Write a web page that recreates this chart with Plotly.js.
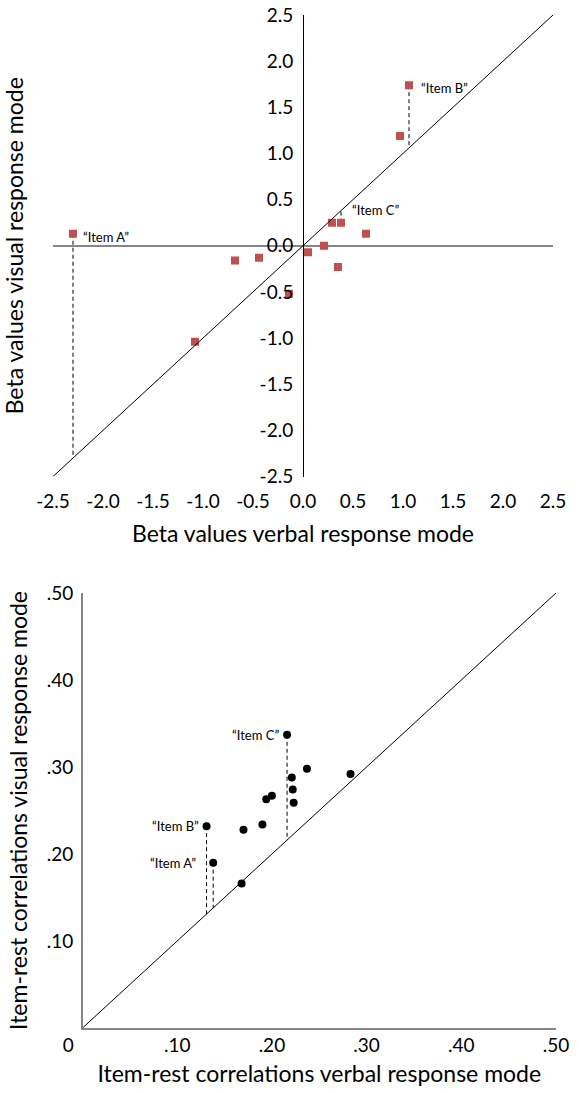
<!DOCTYPE html>
<html><head><meta charset="utf-8">
<script src="https://cdn.plot.ly/plotly-3.0.1.min.js"></script>
<style>html,body{margin:0;padding:0;background:#fff}</style>
</head><body><div id="chart" style="width:579px;height:1093px"></div>
<script>
// ---- data: beta values (top panel) ----
const betaVerbal = [-2.30, -1.08, -0.68, -0.44, -0.14, 0.05, 0.21, 0.29, 0.38, 0.35, 0.63, 0.97, 1.06];
const betaVisual = [ 0.13, -1.04, -0.16, -0.13, -0.52, -0.07, 0.00, 0.25, 0.25, -0.23, 0.13, 1.19, 1.74];
const betaLabelIdx = [0, 8, 12];
const betaLabelText = ['“Item A”', '“Item C”', '“Item B”'];
const betaTicks = [-2.5, -2.0, -1.5, -1.0, -0.5, 0.0, 0.5, 1.0, 1.5, 2.0, 2.5];
const betaTickText = ['-2.5', '-2.0', '-1.5', '-1.0', '-0.5', '0.0', '0.5', '1.0', '1.5', '2.0', '2.5'];

// ---- data: item-rest correlations (bottom panel) ----
const corrVerbal = [0.131, 0.138, 0.168, 0.170, 0.190, 0.194, 0.200, 0.216, 0.221, 0.222, 0.223, 0.237, 0.283];
const corrVisual = [0.232, 0.190, 0.166, 0.228, 0.234, 0.263, 0.267, 0.337, 0.288, 0.274, 0.259, 0.298, 0.292];
const corrLabelIdx = [0, 1, 7];
const corrLabelText = ['“Item B”', '“Item A”', '“Item C”'];
const corrXTicks = [0, 0.1, 0.2, 0.3, 0.4, 0.5];
const corrXTickText = ['0\u2002\u2002\u2002', '.10', '.20', '.30', '.40', '.50'];
const corrYTicks = [0.1, 0.2, 0.3, 0.4, 0.5];
const corrYTickText = ['.10', '.20', '.30', '.40', '.50'];

const W = 579, H = 1093;
const FONT = 'Lato, "Open Sans", sans-serif';
const px = p => p / W;
const py = p => 1 - p / H;
const hidden = 'rgba(0,0,0,0)';

const traces = [];
traces.push({x: [betaTicks[0], betaTicks[betaTicks.length-1]], y: [betaTicks[0], betaTicks[betaTicks.length-1]],
  xaxis: 'x', yaxis: 'y3', mode: 'lines', line: {color: '#000', width: 1}});
betaLabelIdx.forEach(i => traces.push({x: [betaVerbal[i], betaVerbal[i]], y: [betaVisual[i], betaVerbal[i]],
  xaxis: 'x', yaxis: 'y', mode: 'lines', line: {color: '#000', width: 1, dash: '4px,3px'}}));
traces.push({x: betaVerbal, y: betaVisual, xaxis: 'x', yaxis: 'y', mode: 'markers',
  marker: {symbol: 'square', size: 8, color: '#C0504D'}});
traces.push({x: [corrXTicks[0], corrXTicks[corrXTicks.length-1]], y: [corrXTicks[0], corrXTicks[corrXTicks.length-1]],
  xaxis: 'x2', yaxis: 'y2', mode: 'lines', line: {color: '#000', width: 1}});
corrLabelIdx.forEach(i => traces.push({x: [corrVerbal[i], corrVerbal[i]], y: [corrVisual[i], corrVerbal[i]],
  xaxis: 'x2', yaxis: 'y2', mode: 'lines', line: {color: '#000', width: 1, dash: '4px,3px'}}));
traces.push({x: corrVerbal, y: corrVisual, xaxis: 'x2', yaxis: 'y2', mode: 'markers',
  marker: {symbol: 'circle', size: 8, color: '#000'}});

const annotations = [];
const betaShifts = [[8, -3], [9, 13], [10, -3]];
betaLabelIdx.forEach((i, k) => annotations.push({x: betaVerbal[i], y: betaVisual[i], xref: 'x', yref: 'y',
  text: betaLabelText[k], showarrow: false, xanchor: 'left', yanchor: 'middle',
  xshift: betaShifts[k][0], yshift: betaShifts[k][1], font: {family: FONT, size: 13, color: '#000'}}));
const corrShifts = [-6, -15, -6];
corrLabelIdx.forEach((i, k) => annotations.push({x: corrVerbal[i], y: corrVisual[i], xref: 'x2', yref: 'y2',
  text: corrLabelText[k], showarrow: false, xanchor: 'right', yanchor: 'middle',
  xshift: corrShifts[k], font: {family: FONT, size: 13, color: '#000'}}));

const tickFont = {family: FONT, size: 19, color: '#000'};
const titleFont = {family: FONT, size: 23, color: '#000'};

const layout = {
  width: W, height: H, margin: {l: 0, r: 0, t: 0, b: 0},
  paper_bgcolor: '#fff', plot_bgcolor: '#fff', showlegend: false, hovermode: false,
  font: {family: FONT, color: '#000'},
  xaxis: {domain: [px(53), px(553)], range: [-2.5, 2.5], anchor: 'y', tickvals: betaTicks, ticktext: betaTickText,
    showgrid: false, zeroline: false, showline: false, ticks: 'outside', ticklen: 8, tickcolor: hidden,
    tickfont: tickFont, title: {text: 'Beta values verbal response mode', font: titleFont, standoff: 14}},
  yaxis: {domain: [py(476.5), py(15)], range: [-2.5, 2.5], anchor: 'x', showticklabels: false, showgrid: false,
    zeroline: true, zerolinecolor: '#868686', zerolinewidth: 1.5, showline: false, ticks: '',
    title: {text: 'Beta values visual response mode', font: titleFont, standoff: 22}},
  yaxis3: {overlaying: 'y', anchor: 'free', position: px(303), side: 'left', range: [-2.5, 2.5],
    tickvals: betaTicks, ticktext: betaTickText, showline: true, linecolor: '#000', linewidth: 1,
    zeroline: false, showgrid: false, ticks: 'outside', ticklen: 6, tickcolor: hidden, tickfont: tickFont},
  xaxis2: {domain: [px(82.5), px(556)], range: [0, 0.5], anchor: 'y2', tickvals: corrXTicks, ticktext: corrXTickText,
    showgrid: false, zeroline: false, showline: true, linecolor: '#868686', linewidth: 1.5,
    ticks: '', tickfont: tickFont,
    title: {text: 'Item-rest correlations verbal response mode', font: titleFont, standoff: 10}},
  yaxis2: {domain: [py(1028), py(593)], range: [0, 0.5], anchor: 'x2', tickvals: corrYTicks, ticktext: corrYTickText,
    showgrid: false, zeroline: false, showline: true, linecolor: '#868686', linewidth: 1.5,
    ticks: 'outside', ticklen: 4, tickcolor: hidden, tickfont: tickFont,
    title: {text: 'Item-rest correlations visual response mode', font: titleFont, standoff: 12}},
  annotations: annotations
};

Plotly.newPlot('chart', traces, layout, {displayModeBar: false, staticPlot: true});
</script></body></html>
